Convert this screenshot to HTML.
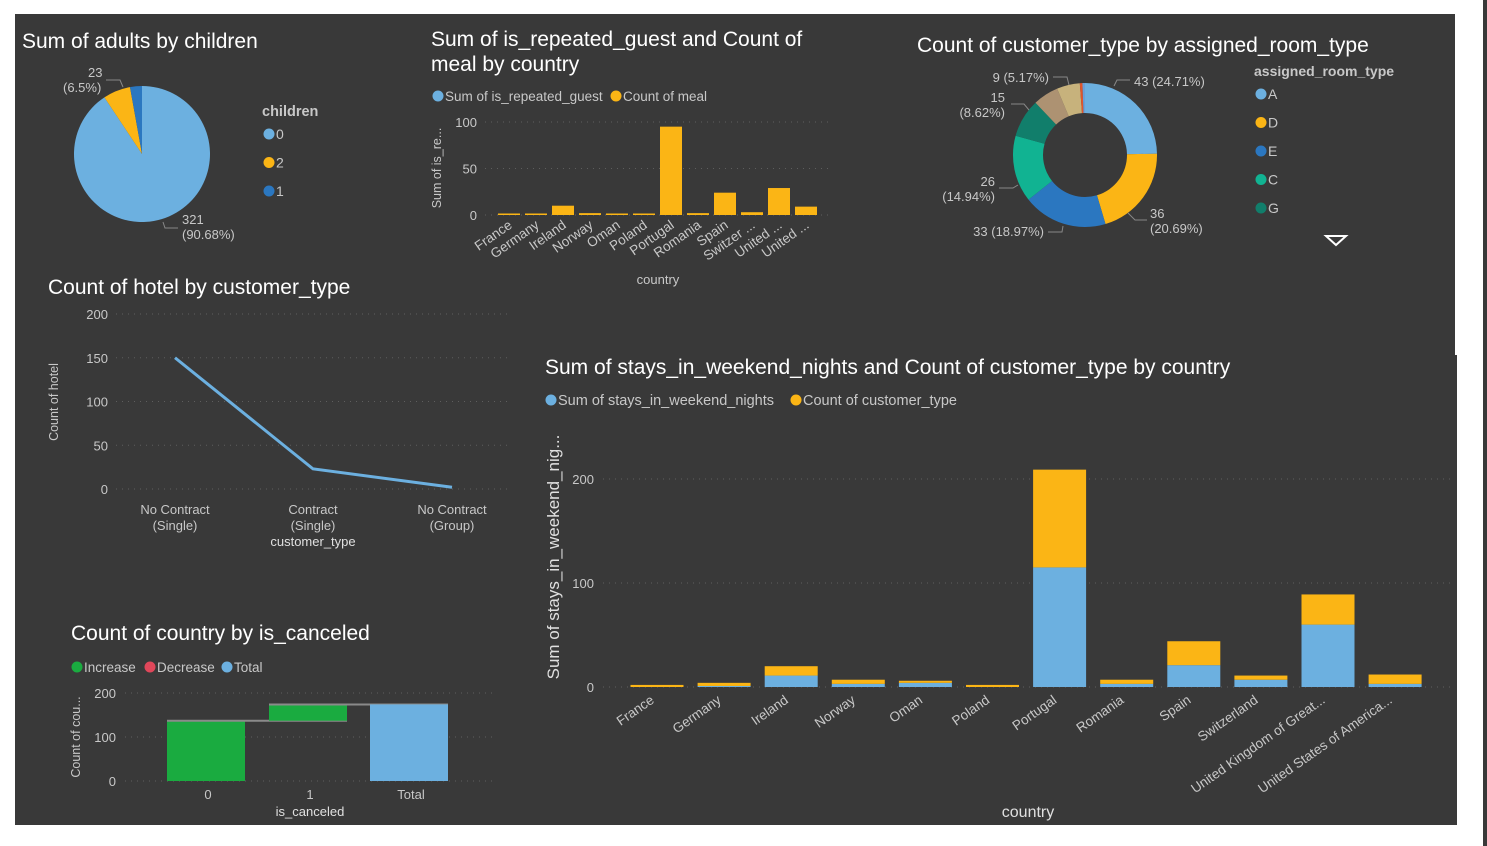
<!DOCTYPE html>
<html><head><meta charset="utf-8"><style>
html,body{margin:0;padding:0;background:#fff;width:1487px;height:846px;overflow:hidden}
svg{display:block;font-family:"Liberation Sans",Arial,sans-serif}
</style></head><body>
<svg id="s" width="1487" height="846">
<rect x="15" y="14" width="1440" height="811" fill="#393939"/>
<rect x="1483" y="0" width="4" height="846" fill="#393939"/>
<rect x="1455" y="355" width="2" height="470" fill="#393939"/>
<g id="g"></g>
</svg>
<script>
// ---- data ----
const pieCats=["0","2","1"];
const pieVals=[321,23,10];
const mealCountries=["France","Germany","Ireland","Norway","Oman","Poland","Portugal","Romania","Spain","Switzer ...","United ...","United ..."];
const mealRepeated=[0,0,0,0,0,0,0,0,0,0,0,0];
const mealCount=[1,1,10,2,1,1,95,2,24,3,29,9];
const mealTicks=[0,50,100];
const roomCats=["A","D","E","C","G","F","B","H","K"];
const roomVals=[43,36,33,26,15,10,9,1,1];
const lineCats=[["No Contract","(Single)"],["Contract","(Single)"],["No Contract","(Group)"]];
const lineVals=[150,23,2];
const lineTicks=[0,50,100,150,200];
const wfCats=["0","1","Total"];
const wfVals=[137,37];
const wfTicks=[0,100,200];
const stCountries=["France","Germany","Ireland","Norway","Oman","Poland","Portugal","Romania","Spain","Switzerland","United Kingdom of Great...","United States of America..."];
const stWeekend=[0,1,11,3,4,0,115,3,21,7,60,3];
const stCustomer=[2,3,9,4,2,2,94,4,23,4,29,9];
const stTicks=[0,100,200];

const NS="http://www.w3.org/2000/svg";
const G=document.getElementById('g');
function el(tag,attrs,name,inter,txt){
  const e=document.createElementNS(NS,tag);
  for(const k in attrs)e.setAttribute(k,attrs[k]);
  
  
  if(txt!==undefined)e.textContent=txt;
  G.appendChild(e);return e;
}
const LB="#6cb0e0",YL="#fbb515",DB="#2b77c0",GR="#1aab40",TX="#c8c8c8",GRID="#5e5e5e";
function title(x,y,t,n){el('text',{x:x,y:y,fill:"#fff","font-size":21},n,false,t);}
function legDot(x,y,c,t,n,fs){el('circle',{cx:x,cy:y,r:5.5,fill:c},n+'-dot',true);el('text',{x:x+7,y:y+5,fill:TX,"font-size":fs||13.5},n,true,t);}
function grid(x1,x2,y,n){el('line',{x1:x1,x2:x2,y1:y,y2:y,stroke:GRID,"stroke-dasharray":"1 5"},n,false);}
function arcPath(cx,cy,r,ri,a0,a1){
  const p=(a,rr)=>[cx+rr*Math.sin(a),cy-rr*Math.cos(a)];
  const large=(a1-a0)>Math.PI?1:0;
  const [x0,y0]=p(a0,r),[x1,y1]=p(a1,r);
  if(!ri)return `M${cx},${cy}L${x0},${y0}A${r},${r} 0 ${large} 1 ${x1},${y1}Z`;
  const [x2,y2]=p(a1,ri),[x3,y3]=p(a0,ri);
  return `M${x0},${y0}A${r},${r} 0 ${large} 1 ${x1},${y1}L${x2},${y2}A${ri},${ri} 0 ${large} 0 ${x3},${y3}Z`;
}

// ---- Pie ----
title(22,48,"Sum of adults by children","pie-title");
{const cx=142,cy=154,r=68,cols=[LB,YL,DB];const tot=pieVals.reduce((a,b)=>a+b,0);let a=0;
pieVals.forEach((v,i)=>{const a1=a+v/tot*2*Math.PI;el('path',{d:arcPath(cx,cy,r,0,a,a1),fill:cols[i]},'pie-slice-'+pieCats[i],true);a=a1;});
el('text',{x:182,y:224,fill:TX,"font-size":13},'pie-label-0',false,pieVals[0]);
el('text',{x:182,y:239,fill:TX,"font-size":13},'pie-label-0-pct',false,"(90.68%)");
el('path',{d:"M163,222 L165,228 L178,228",stroke:"#888",fill:"none"},'pie-leader-0',false);
el('text',{x:88,y:77,fill:TX,"font-size":13},'pie-label-2',false,pieVals[1]);
el('text',{x:63,y:92,fill:TX,"font-size":13},'pie-label-2-pct',false,"(6.5%)");
el('path',{d:"M106,80 L120,80 L123,87",stroke:"#888",fill:"none"},'pie-leader-2',false);
el('text',{x:262,y:116,fill:TX,"font-size":14.5,"font-weight":"bold"},'pie-legend-title',false,"children");
pieCats.forEach((c,i)=>legDot(269,134+28.5*i,cols[i],c,'pie-legend-'+c,14));}

// ---- Meal bar chart ----
title(431,46,"Sum of is_repeated_guest and Count of","meal-title-1");
title(431,71,"meal by country","meal-title-2");
legDot(438,96,LB,"Sum of is_repeated_guest","meal-legend-repeated");
legDot(616,96,YL,"Count of meal","meal-legend-meal");
{const y0=215,k=0.93,x0=509,st=27,w=22;
mealTicks.forEach(t=>{const y=y0-t*k;grid(485,828,y,'meal-grid-'+t);el('text',{x:477,y:y+5,fill:TX,"font-size":13,"text-anchor":"end"},'meal-tick-'+t,false,t);});
mealCountries.forEach((c,i)=>{const x=x0+st*i;const h=Math.max(mealCount[i]*k,1.5);
el('rect',{x:x-w/2,y:y0-h,width:w,height:h,fill:YL},'meal-bar-'+i,true);
el('text',{x:x+4,y:y0+12,fill:TX,"font-size":13.5,"text-anchor":"end",transform:`rotate(-35 ${x+4} ${y0+12})`},'meal-xlabel-'+i,false,c);});
el('text',{x:441,y:168,fill:TX,"font-size":12.5,"text-anchor":"middle",transform:"rotate(-90 441 168)"},'meal-y-title',false,"Sum of is_re...");
el('text',{x:658,y:284,fill:TX,"font-size":13,"text-anchor":"middle"},'meal-x-title',false,"country");}

// ---- Donut ----
title(917,52,"Count of customer_type by assigned_room_type","donut-title");
{const cx=1085,cy=155,r=72,ri=42,cols=[LB,YL,DB,"#11b392","#117e6b","#ad9272","#c7b27c","#e0552c","#6a9fd8"];
const tot=roomVals.reduce((a,b)=>a+b,0);let a=0;
roomVals.forEach((v,i)=>{const a1=a+v/tot*2*Math.PI;el('path',{d:arcPath(cx,cy,r,ri,a,a1),fill:cols[i]},'donut-slice-'+roomCats[i],true);a=a1;});
const L=(x,y,t,n,anc)=>el('text',{x:x,y:y,fill:TX,"font-size":13,"text-anchor":anc||"start"},n,false,t);
L(1134,86,"43 (24.71%)",'donut-label-A');el('path',{d:"M1114,86 L1117,80 L1130,80",stroke:"#888",fill:"none"},'donut-leader-A',false);
L(1150,218,"36",'donut-label-D');L(1150,233,"(20.69%)",'donut-label-D-pct');el('path',{d:"M1128,213 L1135,220 L1147,220",stroke:"#888",fill:"none"},'donut-leader-D',false);
L(1044,236,"33 (18.97%)",'donut-label-E',"end");el('path',{d:"M1048,232 L1062,232 L1063,226",stroke:"#888",fill:"none"},'donut-leader-E',false);
L(995,186,"26",'donut-label-C',"end");L(995,201,"(14.94%)",'donut-label-C-pct',"end");el('path',{d:"M999,188 L1013,188 L1018,185",stroke:"#888",fill:"none"},'donut-leader-C',false);
L(1005,102,"15",'donut-label-G',"end");L(1005,117,"(8.62%)",'donut-label-G-pct',"end");el('path',{d:"M1011,104 L1024,104 L1029,110",stroke:"#888",fill:"none"},'donut-leader-G',false);
L(1049,82,"9 (5.17%)",'donut-label-B',"end");el('path',{d:"M1053,77 L1067,77 L1069,85",stroke:"#888",fill:"none"},'donut-leader-B',false);
el('text',{x:1254,y:76,fill:TX,"font-size":14,"font-weight":"bold"},'donut-legend-title',false,"assigned_room_type");
["A","D","E","C","G"].forEach((c,i)=>legDot(1261,94+28.5*i,cols[i],c,'donut-legend-'+c,14));
el('path',{d:"M1326,236 L1346,236 L1336,245 Z",fill:"none",stroke:"#fff","stroke-width":2},'legend-scroll-down',true);}

// ---- Line chart ----
title(48,294,"Count of hotel by customer_type","line-title");
{const y0=489,k=0.875,xs=[175,313,452];
lineTicks.forEach(t=>{const y=y0-t*k;grid(116,510,y,'line-grid-'+t);el('text',{x:108,y:y+5,fill:TX,"font-size":13,"text-anchor":"end"},'line-tick-'+t,false,t);});
el('polyline',{points:lineVals.map((v,i)=>xs[i]+","+(y0-v*k)).join(" "),fill:"none",stroke:LB,"stroke-width":3},'line-series',true);
lineCats.forEach((c,i)=>{el('text',{x:xs[i],y:514,fill:TX,"font-size":13,"text-anchor":"middle"},'line-xlabel-'+i,false,c[0]);el('text',{x:xs[i],y:530,fill:TX,"font-size":13,"text-anchor":"middle"},'line-xlabel2-'+i,false,c[1]);});
el('text',{x:313,y:546,fill:"#e0e0e0","font-size":13,"text-anchor":"middle"},'line-x-title',false,"customer_type");
el('text',{x:58,y:402,fill:TX,"font-size":12.5,"text-anchor":"middle",transform:"rotate(-90 58 402)"},'line-y-title',false,"Count of hotel");}

// ---- Waterfall ----
title(71,640,"Count of country by is_canceled","waterfall-title");
legDot(77,667,GR,"Increase","wf-legend-increase");
legDot(150,667,"#e0475a","Decrease","wf-legend-decrease");
legDot(227,667,LB,"Total","wf-legend-total");
{const y0=781,k=0.44,xs=[206,308,409],w=78;
wfTicks.forEach(t=>{const y=y0-t*k;grid(125,495,y,'wf-grid-'+t);el('text',{x:116,y:y+5,fill:TX,"font-size":13,"text-anchor":"end"},'wf-tick-'+t,false,t);});
let cum=0;
wfVals.forEach((v,i)=>{const yT=y0-(cum+v)*k,yB=y0-cum*k;el('rect',{x:xs[i]-w/2,y:yT,width:w,height:yB-yT,fill:GR},'wf-bar-'+wfCats[i],true);cum+=v;
 el('line',{x1:xs[i]-w/2,x2:xs[i+1]+w/2,y1:yT,y2:yT,stroke:"#8a8a8a","stroke-width":2},'wf-connector-'+i,false);});
el('rect',{x:xs[2]-w/2,y:y0-cum*k,width:w,height:cum*k,fill:LB},'wf-bar-total',true);
wfCats.forEach((c,i)=>el('text',{x:xs[i]+2,y:799,fill:TX,"font-size":13,"text-anchor":"middle"},'wf-xlabel-'+c,false,c));
el('text',{x:310,y:816,fill:"#e0e0e0","font-size":13,"text-anchor":"middle"},'wf-x-title',false,"is_canceled");
el('text',{x:80,y:737,fill:TX,"font-size":12.5,"text-anchor":"middle",transform:"rotate(-90 80 737)"},'wf-y-title',false,"Count of cou...");}

// ---- Stacked bar ----
title(545,374,"Sum of stays_in_weekend_nights and Count of customer_type by country","stays-title");
legDot(551,400,LB,"Sum of stays_in_weekend_nights","stays-legend-weekend",14.5);
legDot(796,400,YL,"Count of customer_type","stays-legend-customer",14.5);
{const y0=687,k=1.04,x0=657,st=67.1,w=53;
stTicks.forEach(t=>{const y=y0-t*k;grid(603,1455,y,'stays-grid-'+t);el('text',{x:594,y:y+5,fill:TX,"font-size":13,"text-anchor":"end"},'stays-tick-'+t,false,t);});
stCountries.forEach((c,i)=>{const x=x0+st*i;const hb=stWeekend[i]*k,ho=stCustomer[i]*k;
el('rect',{x:x-w/2,y:y0-hb,width:w,height:hb,fill:LB},'stays-bar-weekend-'+i,true);
el('rect',{x:x-w/2,y:y0-hb-ho,width:w,height:ho,fill:YL},'stays-bar-customer-'+i,true);
el('text',{x:x-2,y:y0+15,fill:TX,"font-size":13.5,"text-anchor":"end",transform:`rotate(-35 ${x-2} ${y0+15})`},'stays-xlabel-'+i,false,c);});
el('text',{x:559,y:557,fill:"#e0e0e0","font-size":17,"text-anchor":"middle",transform:"rotate(-90 559 557)"},'stays-y-title',false,"Sum of stays_in_weekend_nig...");
el('text',{x:1028,y:817,fill:"#e0e0e0","font-size":16,"text-anchor":"middle"},'stays-x-title',false,"country");}
</script>
</body></html>
